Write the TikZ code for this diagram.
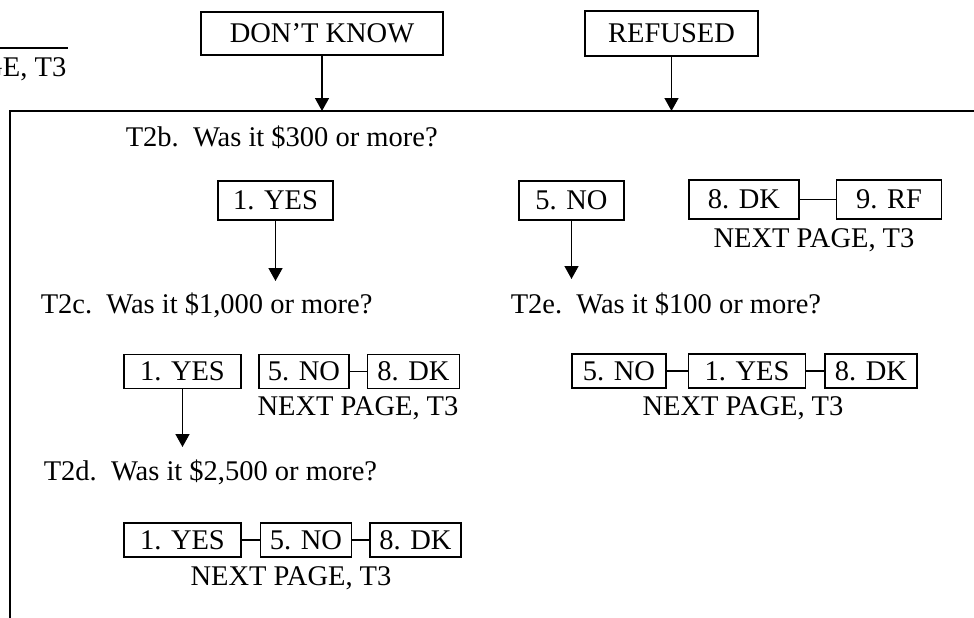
\documentclass[tikz,border=0pt]{standalone}
\usepackage{fontspec}
\setmainfont{Liberation Serif}
\usetikzlibrary{arrows.meta,positioning}

\begin{document}
\begin{tikzpicture}[x=1pt,y=-1pt,line width=1.5pt,
    >={Triangle[length=13pt,width=14pt]},
    font=\fontsize{28.5}{34}\selectfont,
    opt/.style={draw,inner sep=0pt,minimum height=34pt},
    quest/.style={inner sep=0pt,anchor=base west},
    skipto/.style={inner sep=0pt,anchor=base}]
  \useasboundingbox (0,0) rectangle (974,618);

  % tail of the question above
  \draw (0,48) -- (68,48);
  \node[inner sep=0pt,anchor=base east] (prevskip) at (67,77) {GE, T3};

  % entries into T2b
  \node[opt,minimum width=242pt,minimum height=43pt] (dontknow) at (322,33.5) {DON’T KNOW};
  \node[opt,minimum width=173pt,minimum height=45pt] (refused) at (671.5,33.5) {REFUSED};
  \draw (974,111) -- (10,111) -- (10,618);
  \coordinate (in1) at (dontknow.south |- 0,111);
  \coordinate (in2) at (refused.south |- 0,111);
  \draw[->] (dontknow) -- (in1);
  \draw[->] (refused) -- (in2);

  % T2b
  \node[quest] (t2b) at (125,146) {T2b.\ \ Was it \$300 or more?};
  \node[opt,minimum width=115pt,minimum height=39pt] (yes1) at (275.5,200.5) {1. YES};
  \node[opt,minimum width=105pt,minimum height=39pt] (no1) at (571.5,200.5) {5. NO};
  \node[opt,minimum width=110pt,minimum height=39pt] (dk1) at (744,199.5) {8. DK};
  \node[opt,minimum width=105pt,minimum height=39pt,right=36pt of dk1] (rf1) {9. RF};
  \draw (dk1) -- (rf1);
  \node[skipto] (skip1) at (814,247) {NEXT PAGE, T3};
  \coordinate (to2c) at (yes1.south |- 0,281);
  \coordinate (to2e) at (no1.south |- 0,279);
  \draw[->] (yes1) -- (to2c);
  \draw[->] (no1) -- (to2e);

  % T2c and T2e
  \node[quest] (t2c) at (40,313) {T2c.\ \ Was it \$1,000 or more?};
  \node[quest] (t2e) at (510,313) {T2e.\ \ Was it \$100 or more?};

  \node[opt,minimum width=117pt] (yes2) at (182.5,371.5) {1. YES};
  \node[opt,minimum width=90pt] (no2) at (304,371.5) {5. NO};
  \node[opt,minimum width=92pt,right=17pt of no2] (dk2) {8. DK};
  \draw (no2) -- (dk2);
  \node[skipto] (skip2) at (358,415) {NEXT PAGE, T3};

  \node[opt,minimum width=94pt] (no3) at (619,371) {5. NO};
  \node[opt,minimum width=117pt,right=21pt of no3] (yes3) {1. YES};
  \node[opt,minimum width=92pt,right=18pt of yes3] (dk3) {8. DK};
  \draw (no3) -- (yes3) (yes3) -- (dk3);
  \node[skipto] (skip3) at (743,415) {NEXT PAGE, T3};

  \coordinate (to2d) at (yes2.south |- 0,447);
  \draw[->] (yes2) -- (to2d);

  % T2d
  \node[quest] (t2d) at (43,480) {T2d.\ \ Was it \$2,500 or more?};
  \node[opt,minimum width=117pt] (yes4) at (182.5,540) {1. YES};
  \node[opt,minimum width=91pt,right=18pt of yes4] (no4) {5. NO};
  \node[opt,minimum width=91pt,right=17pt of no4] (dk4) {8. DK};
  \draw (yes4) -- (no4) (no4) -- (dk4);
  \node[skipto] (skip4) at (291,585) {NEXT PAGE, T3};
\end{tikzpicture}
\end{document}
